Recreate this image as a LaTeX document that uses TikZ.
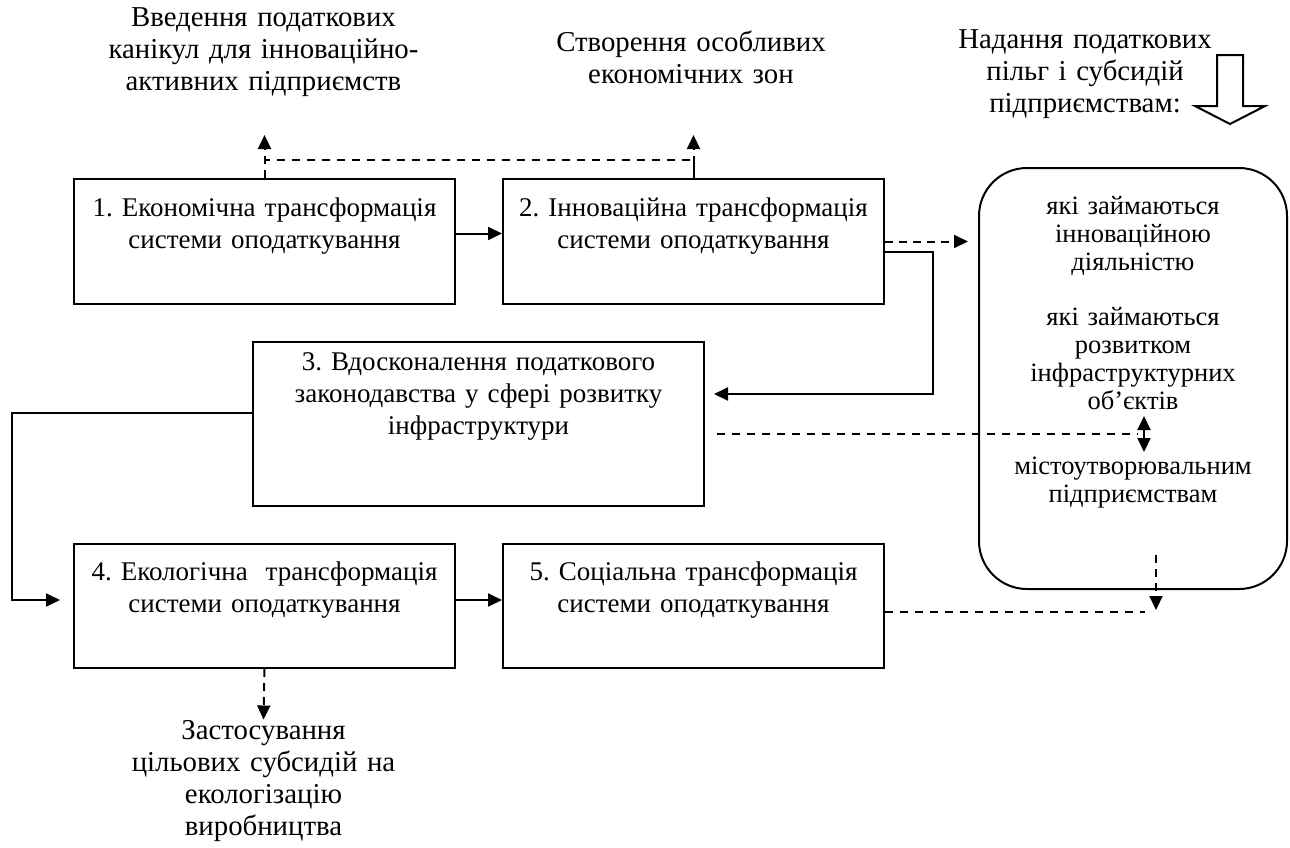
\documentclass[tikz,border=0pt]{standalone}
\usepackage{fontspec}
\setmainfont{Liberation Serif}
\frenchspacing
\usetikzlibrary{arrows.meta,positioning}

\begin{document}
\begin{tikzpicture}[
  >={Triangle[length=7pt,width=6.5pt]},
  font=\fontsize{13.5}{16}\selectfont,
  box/.style={draw, line width=1pt, align=center, anchor=north west, inner xsep=3pt, inner ysep=0pt,
    text width=184.5pt, text height=18.5pt, text depth=44pt},
  lab/.style={align=center, text width=200pt, inner sep=0pt, anchor=base, font=\fontsize{14.4}{16}\selectfont},
  arr/.style={->, line width=1pt},
  darr/.style={->, line width=1pt, dash pattern=on 4pt off 3pt},
  dline/.style={line width=0.75pt, dash pattern=on 4pt off 3.5pt}
]
\useasboundingbox (0,0) rectangle (645pt,-423.5pt);

\node[box] (econ) at (36.5pt,-89pt) {1. Економічна трансформація\\системи оподаткування};
\node[box, right=23pt of econ] (innov) {2. Інноваційна трансформація\\системи оподаткування};
\node[box, text width=219.5pt, text height=14pt, text depth=68pt] (law) at (126pt,-170.5pt)
  {3. Вдосконалення податкового\\законодавства у сфері розвитку\\інфраструктури};
\node[box, text height=18pt] (eco) at (36.5pt,-271.5pt) {4. Екологічна\ \ трансформація\\системи оподаткування};
\node[box, text height=18pt, right=23pt of eco] (soc) {5. Соціальна трансформація\\системи оподаткування};

\node[draw, line width=1pt, rounded corners=24pt, anchor=north west, align=center, text width=148pt,
  inner xsep=3pt, inner ysep=0pt, text height=23pt, text depth=187.5pt,
  font=\fontsize{13.25}{14}\selectfont] (firms) at (489pt,-83.5pt)
  {які займаються\\інноваційною\\діяльністю\\[13.5pt]які займаються\\розвитком\\інфраструктурних\\об’єктів\\[18.5pt]містоутворювальним\\підприємствам};

\node[lab] (holiday) at (131.75pt,-13pt) {Введення податкових\\канікул для інноваційно-\\активних підприємств};
\node[lab] (zones) at (345.5pt,-25.5pt) {Створення особливих\\економічних зон};
\node[lab] (benefits) at (542.5pt,-24pt) {Надання податкових\\пільг і субсидій\\підприємствам:};
\node[lab] (subsid) at (131.75pt,-369.5pt) {Застосування\\цільових субсидій на\\екологізацію\\виробництва};

% hollow arrow
\coordinate (give) at (615pt,-27.5pt);
\draw[line width=1pt] ([xshift=-6.5pt]give) -- ++(13pt,0) -- ++(0,-25.5pt) -- ++(11pt,0)
  -- ++(-17.5pt,-9pt) -- ++(-17.5pt,9pt) -- ++(11pt,0) -- cycle;

% main flow
\draw[arr] ([yshift=4pt]econ.east) -- ([yshift=4pt]innov.west);
\draw[arr] ([yshift=3pt]eco.east) -- ([yshift=3pt]soc.west);
\draw[arr] ([yshift=-5pt]innov.east) -- ++(24pt,0) |- ([xshift=4.5pt,yshift=15pt]law.east);
\draw[arr] ([yshift=5.5pt]law.west) -- ++(-120pt,0) |- ([xshift=-6.5pt,yshift=3pt]eco.west);

% tax measures
\draw[dline, line width=1pt] (econ.north) -- ++(0,9pt) -| (innov.north);
\draw[darr] (econ.north) -- ++(0,21.5pt);
\draw[darr] (innov.north) -- ++(0,21.5pt);
\draw[darr] (eco.south) -- (subsid.north);
\draw[darr, shorten >=5pt] (innov.east) -- (innov.east -| firms.west);

\coordinate (split) at ([xshift=5.5pt,yshift=-133.5pt]firms.north);
\draw[<->, line width=1pt] ([yshift=9pt]split) -- ([yshift=-9pt]split);
\draw[dline, shorten <=6pt, shorten >=3pt] (law.east |- split) -- (split);

\coordinate (drop) at ([xshift=11.5pt,yshift=17.5pt]firms.south);
\draw[darr] (drop) -- ++(0,-27.5pt);
\draw[dline] ([yshift=-3pt]soc.east) -- ++(130pt,0);
\end{tikzpicture}
\end{document}
